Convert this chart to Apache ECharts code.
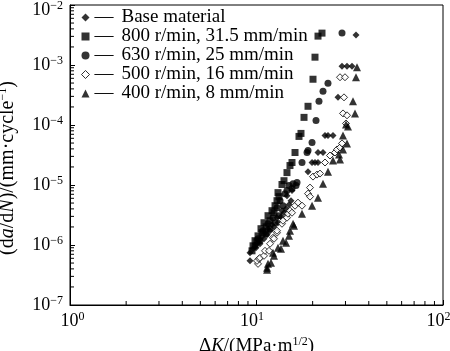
<!DOCTYPE html>
<html lang="en">
<head>
    <meta charset="UTF-8">
    <title>da/dN vs ΔK</title>
    <style>
        body { margin: 0; background: #fff; }
        #chart { width: 450px; height: 351px; }
    </style>
</head>
<body>
<div id="chart"></div>
<script src="https://cdn.jsdelivr.net/npm/echarts@6/dist/echarts.min.js"></script>
<script>
    // series names
    const names = ['Base material', '800 r/min, 31.5 mm/min', '630 r/min, 25 mm/min',
        '500 r/min, 16 mm/min', '400 r/min, 8 mm/min'];

    // [ΔK, da/dN]
    const baseMaterial = [
        [9.23, 5.44e-7], [9.23, 7.41e-7], [9.58, 8.64e-7], [9.94, 8.98e-7], [9.94, 1.01e-6],
        [10.31, 1.18e-6], [10.44, 1.05e-6], [10.70, 1.37e-6], [10.97, 1.27e-6], [11.11, 1.60e-6],
        [11.39, 1.48e-6], [11.53, 1.87e-6], [11.82, 1.73e-6], [12.11, 2.18e-6], [12.41, 2.01e-6],
        [12.88, 2.85e-6], [13.04, 2.35e-6], [13.53, 2.96e-6], [13.70, 3.73e-6], [14.04, 3.45e-6],
        [14.40, 4.03e-6], [14.57, 6.65e-6], [14.94, 4.70e-6], [15.31, 5.48e-6], [15.50, 8.06e-6],
        [18.89, 1.67e-5], [19.85, 2.37e-5], [20.59, 2.37e-5], [21.37, 2.37e-5], [21.37, 3.48e-5],
        [22.73, 3.48e-5], [23.30, 6.70e-5], [24.17, 6.70e-5], [25.71, 6.70e-5], [27.35, 2.89e-4],
        [28.74, 9.55e-4], [30.57, 9.55e-4], [32.51, 9.55e-4], [34.16, 3.15e-3]
    ];
    const r800 = [
        [9.46, 8.00e-7], [9.58, 9.70e-7], [9.82, 1.18e-6], [10.06, 1.13e-6], [10.19, 1.42e-6],
        [10.57, 1.87e-6], [10.70, 1.60e-6], [10.97, 2.35e-6], [11.25, 2.01e-6], [11.53, 3.08e-6],
        [11.82, 2.54e-6], [12.11, 3.73e-6], [12.41, 3.45e-6], [12.57, 4.52e-6], [12.88, 5.48e-6],
        [13.04, 7.46e-6], [13.20, 6.40e-6], [13.70, 1.02e-5], [14.04, 1.18e-5], [14.57, 1.61e-5],
        [15.12, 2.11e-5], [15.50, 2.37e-5], [16.09, 3.48e-5], [16.90, 6.45e-5], [17.32, 7.24e-5],
        [17.98, 1.34e-4], [18.89, 2.05e-4], [20.09, 5.79e-4], [20.59, 1.35e-3], [21.37, 3.03e-3],
        [22.45, 3.40e-3]
    ];
    const r630 = [
        [9.82, 9.70e-7], [10.19, 1.27e-6], [10.44, 1.18e-6], [10.84, 1.73e-6], [11.25, 1.54e-6],
        [11.53, 2.26e-6], [11.82, 1.87e-6], [12.26, 2.85e-6], [12.57, 2.35e-6], [12.88, 4.19e-6],
        [13.20, 3.08e-6], [13.37, 5.48e-6], [13.87, 4.52e-6], [14.22, 7.18e-6], [14.57, 8.06e-6],
        [14.94, 9.77e-6], [15.50, 8.71e-6], [15.70, 1.05e-5], [16.29, 9.77e-6], [16.49, 1.10e-5],
        [17.54, 2.37e-5], [18.66, 3.48e-5], [18.89, 3.76e-5], [19.85, 5.12e-5], [20.85, 1.19e-4],
        [21.63, 2.48e-4], [22.73, 3.65e-4], [24.17, 4.96e-4], [28.74, 3.40e-3]
    ];
    const r500 = [
        [10.19, 4.85e-7], [10.06, 5.44e-7], [10.31, 5.88e-7], [10.44, 6.11e-7], [10.97, 6.60e-7],
        [11.11, 8.00e-7], [11.67, 8.00e-7], [11.82, 1.05e-6], [12.26, 1.32e-6], [12.41, 1.27e-6],
        [12.88, 1.60e-6], [12.88, 1.73e-6], [13.70, 2.26e-6], [13.87, 2.54e-6], [14.57, 2.85e-6],
        [14.75, 3.32e-6], [15.12, 3.73e-6], [15.50, 3.45e-6], [16.09, 4.52e-6], [16.69, 5.08e-6],
        [17.54, 4.52e-6], [18.89, 7.18e-6], [19.36, 9.05e-6], [19.36, 6.40e-6], [20.09, 1.38e-5],
        [21.10, 1.49e-5], [21.90, 1.55e-5], [23.30, 2.37e-5], [24.78, 3.10e-5], [26.36, 3.48e-5],
        [27.02, 3.91e-5], [28.04, 4.22e-5], [28.74, 4.93e-5], [30.19, 1.06e-4], [29.10, 1.56e-4],
        [30.57, 1.45e-4], [29.46, 2.89e-4], [28.04, 6.25e-4], [29.82, 6.25e-4]
    ];
    const r400 = [
        [11.39, 3.85e-7], [11.39, 4.16e-7], [11.53, 4.85e-7], [11.96, 5.04e-7], [12.41, 6.60e-7],
        [12.26, 7.41e-7], [13.04, 8.98e-7], [13.53, 8.64e-7], [13.87, 1.18e-6], [14.40, 1.09e-6],
        [14.94, 1.42e-6], [15.12, 1.73e-6], [15.70, 2.26e-6], [15.89, 2.09e-6], [17.54, 3.32e-6],
        [19.85, 4.52e-6], [21.37, 6.15e-6], [22.73, 1.05e-5], [24.17, 1.67e-5], [25.71, 2.56e-5],
        [28.04, 2.66e-5], [27.70, 3.22e-5], [29.10, 3.91e-5], [30.57, 4.93e-5], [29.10, 6.70e-5],
        [30.19, 1.02e-4], [30.94, 9.47e-5], [33.74, 1.56e-4], [32.91, 2.48e-4], [34.16, 6.25e-4],
        [34.58, 9.19e-4]
    ];

    const allData = [baseMaterial, r800, r630, r500, r400];
    const symbols = ['diamond', 'rect', 'circle', 'diamond', 'triangle'];
    const sizes = [7, 7, 7, 7, 8];
    const hollow = [false, false, false, true, false];

    // axis ranges and minor tick values (2..9 per decade)
    const xRange = [1, 100];
    const yRange = [1e-7, 1e-2];
    const xDecades = [1, 10];
    const yDecades = [1e-7, 1e-6, 1e-5, 1e-4, 1e-3];
    const mults = [2, 3, 4, 5, 6, 7, 8, 9];

    const font = '"Liberation Serif", "Times New Roman", serif';

    function powLabel(v) {
        const e = Math.round(Math.log10(v));
        let b = 'b', s = 's';
        if (e === 0) b = 'b0';
        if (e === -2) { b = 'bt'; s = 'st'; }
        return '{' + b + '|10}{' + s + '|' + String(e).replace('-', '−') + '}';
    }
    const powRich = {
        b: { fontFamily: font, fontSize: 18, color: '#000' },
        b0: { fontFamily: font, fontSize: 18, color: '#000', padding: [0, 0, 0, 14] },
        bt: { fontFamily: font, fontSize: 18, color: '#000', padding: [10, 0, 0, 0] },
        s: { fontFamily: font, fontSize: 12, color: '#000', padding: [0, 0, 9, 0] },
        st: { fontFamily: font, fontSize: 12, color: '#000', padding: [10, 0, 9, 0] }
    };
    function nameRich(size) {
        return {
            n: { fontFamily: font, fontSize: size, color: '#000' },
            i: { fontFamily: font, fontSize: size, color: '#000', fontStyle: 'italic' },
            s: { fontFamily: font, fontSize: 12, color: '#000', padding: [0, 0, 9, 0] }
        };
    }

    const chart = echarts.init(document.getElementById('chart'), null, { renderer: 'canvas' });

    const series = allData.map((d, i) => ({
        name: names[i],
        type: 'scatter',
        data: d,
        symbol: symbols[i],
        symbolSize: sizes[i],
        itemStyle: hollow[i]
            ? { color: '#fff', borderColor: '#000', borderWidth: 1 }
            : { color: '#000' }
    }));

    // minor ticks drawn through the axis scales
    const xMinor = [];
    xDecades.forEach(d => mults.forEach(m => xMinor.push([m * d, yRange[0]])));
    const yMinor = [];
    yDecades.forEach(d => mults.forEach(m => yMinor.push([xRange[0], m * d])));

    function tickSeries(data, horizontal) {
        return {
            type: 'custom',
            silent: true,
            clip: false,
            data: data,
            renderItem: (params, api) => {
                const p = api.coord([api.value(0), api.value(1)]);
                const end = horizontal ? [p[0] + 4, p[1]] : [p[0], p[1] - 4];
                return {
                    type: 'line',
                    shape: { x1: p[0], y1: p[1], x2: end[0], y2: end[1] },
                    style: { stroke: '#000', lineWidth: 1 }
                };
            }
        };
    }
    series.push(tickSeries(xMinor, false), tickSeries(yMinor, true));

    chart.setOption({
        animation: false,
        textStyle: { fontFamily: font },
        grid: {
            left: 70, right: 7, top: 5, bottom: 46,
            outerBoundsMode: 'none', containLabel: false,
            show: true, borderColor: '#000', borderWidth: 1
        },
        legend: {
            orient: 'vertical',
            left: 76,
            top: 3,
            itemGap: 0,
            itemWidth: 8,
            itemHeight: 8,
            data: names.map((n, i) => ({
                name: n,
                icon: symbols[i],
                itemStyle: hollow[i] ? { color: '#fff', borderColor: '#000', borderWidth: 1 } : { color: '#000' }
            })),
            formatter: n => '{d|—}{t|' + n + '}',
            textStyle: {
                rich: {
                    d: { fontFamily: font, fontSize: 19, color: '#000', width: 27 },
                    t: { fontFamily: font, fontSize: 19, color: '#000', lineHeight: 19 }
                }
            }
        },
        xAxis: {
            type: 'log',
            logBase: 10,
            min: xRange[0],
            max: xRange[1],
            splitLine: { show: false },
            axisLine: { onZero: false, lineStyle: { color: '#000' } },
            axisTick: { show: true, inside: true, length: 5, lineStyle: { color: '#000' } },
            minorTick: { show: false },
            axisLabel: { formatter: powLabel, rich: powRich, margin: 6, padding: [0, 9, 0, 0] },
            name: '{n|Δ}{i|K}{n|/(MPa·m}{s|1/2}{n|)}',
            nameLocation: 'middle',
            nameGap: 27,
            nameTextStyle: { rich: nameRich(19) }
        },
        yAxis: {
            type: 'log',
            logBase: 10,
            min: yRange[0],
            max: yRange[1],
            splitLine: { show: false },
            axisLine: { onZero: false, lineStyle: { color: '#000' } },
            axisTick: { show: true, inside: true, length: 5, lineStyle: { color: '#000' } },
            minorTick: { show: false },
            axisLabel: { formatter: powLabel, rich: powRich, margin: 7 },
            name: '{n|(d}{i|a}{n|/d}{i|N}{n|)/(mm·cycle}{s|−1}{n|)}',
            nameLocation: 'middle',
            nameGap: 52,
            nameTextStyle: { rich: nameRich(20), padding: [0, 26, 0, 0] }
        },
        series: series
    });
</script>
</body>
</html>
